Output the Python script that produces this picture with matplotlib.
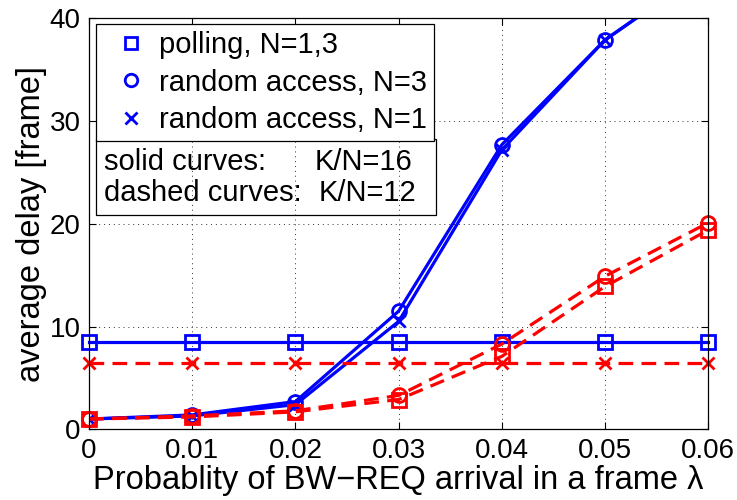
import matplotlib
matplotlib.use("Agg")
import matplotlib.pyplot as plt
from matplotlib.lines import Line2D
from matplotlib.patches import Rectangle

plt.rcParams['font.family'] = ['Liberation Sans', 'DejaVu Sans']

# Arrival probability per frame
lam = [0.0, 0.01, 0.02, 0.03, 0.04, 0.05, 0.06]

# K/N = 16 (solid curves)
polling_k16 = [8.5, 8.5, 8.5, 8.5, 8.5, 8.5, 8.5]
ra_n3_k16 = [1.0, 1.4, 2.7, 11.5, 27.7, 37.9, 44.9]
ra_n1_k16 = [1.0, 1.3, 2.4, 10.5, 27.2, 37.9, 44.9]

# K/N = 12 (dashed curves)
cross_k12 = [6.5, 6.5, 6.5, 6.5, 6.5, 6.5, 6.5]
circle_k12 = [1.0, 1.3, 1.8, 3.3, 8.3, 14.9, 20.1]
square_k12 = [1.0, 1.2, 1.7, 2.9, 7.1, 13.9, 19.4]

xticks = [0, 0.01, 0.02, 0.03, 0.04, 0.05, 0.06]
xticklabels = ['0', '0.01', '0.02', '0.03', '0.04', '0.05', '0.06']
yticks = [0, 10, 20, 30, 40]

legend_labels = ['polling, N=1,3', 'random access, N=3', 'random access, N=1']
legend_markers = ['s', 'o', 'x']

W, H = 737, 500
fig = plt.figure(figsize=(W / 100, H / 100), dpi=100)
x0, x1, y0, y1 = 89, 708.3, 429.3, 18.3
ax = fig.add_axes([x0 / W, 1 - y0 / H, (x1 - x0) / W, (y0 - y1) / H])

blue, red = '#0000ff', '#ff0000'
lw = 2.3
dash = (0, (4.6, 2.6))
mk = dict(markersize=10, markeredgewidth=2, markerfacecolor='none')

# solid curves
ax.plot(lam, polling_k16, color=blue, lw=lw, marker='s', markeredgecolor=blue, **mk, clip_on=False)
ax.plot(lam, ra_n3_k16, color=blue, lw=lw, marker='o', markeredgecolor=blue, **mk, clip_on=True)
ax.plot(lam, ra_n1_k16, color=blue, lw=lw, marker='x', markeredgecolor=blue,
        markersize=8, markeredgewidth=2, clip_on=True)

# dashed curves
ax.plot(lam, cross_k12, color=red, lw=lw, linestyle=dash, marker='x', markeredgecolor=red,
        markersize=8, markeredgewidth=2, clip_on=False)
ax.plot(lam, circle_k12, color=red, lw=lw, linestyle=dash, marker='o', markeredgecolor=red, **mk, clip_on=False)
ax.plot(lam, square_k12, color=red, lw=lw, linestyle=dash, marker='s', markeredgecolor=red, **mk, clip_on=False)

ax.set_xlim(0, 0.06)
ax.set_ylim(0, 40)
ax.set_xticks(xticks)
ax.set_xticklabels(xticklabels)
ax.set_yticks(yticks)
ax.tick_params(direction='in', top=True, right=True, length=5, width=0.8,
               labelsize=20, pad=6)
for s in ax.spines.values():
    s.set_linewidth(0.9)
ax.grid(True, color='#303030', linestyle=(0, (1, 4)), linewidth=0.7)
ax.set_axisbelow(True)

ax.set_xlabel('Probablity of BW\u2212REQ arrival in a frame \u03bb', fontsize=23.5, labelpad=1)
ax.set_ylabel('average delay [frame]', fontsize=23.5, labelpad=2)

# marker legend
handles = [Line2D([], [], color=blue, linestyle='none', marker=m,
                  markersize=(8 if m == 'x' else 9), markeredgewidth=2,
                  markerfacecolor='none', markeredgecolor=blue)
           for m in legend_markers]
bx0 = (96 - x0) / (x1 - x0)
by_top = (y0 - 24) / (y0 - y1)
leg = ax.legend(handles, legend_labels, loc='upper left', bbox_to_anchor=(bx0, by_top),
                borderaxespad=0, fontsize=21, frameon=True, fancybox=False,
                edgecolor='black', framealpha=1, handlelength=1.9, handletextpad=0.0,
                labelspacing=0.32, borderpad=0.25)
leg.get_frame().set_linewidth(0.9)

# curve style note
def ax_x(px):
    return (px - x0) / (x1 - x0)

def ax_y(py):
    return (y0 - py) / (y0 - y1)

ax.add_patch(Rectangle((ax_x(96), ax_y(215)), ax_x(436) - ax_x(96), ax_y(139) - ax_y(215),
                       transform=ax.transAxes, fill=False, edgecolor='black', lw=0.9, zorder=5))
ax.text(ax_x(104), ax_y(162), 'solid curves:', transform=ax.transAxes, fontsize=21,
        va='center', ha='left', zorder=6)
ax.text(ax_x(315), ax_y(162), 'K/N=16', transform=ax.transAxes, fontsize=21,
        va='center', ha='left', zorder=6)
ax.text(ax_x(104), ax_y(193), 'dashed curves:', transform=ax.transAxes, fontsize=21,
        va='center', ha='left', zorder=6)
ax.text(ax_x(319), ax_y(193), 'K/N=12', transform=ax.transAxes, fontsize=21,
        va='center', ha='left', zorder=6)

fig.savefig('out.png', dpi=100, facecolor='white')
